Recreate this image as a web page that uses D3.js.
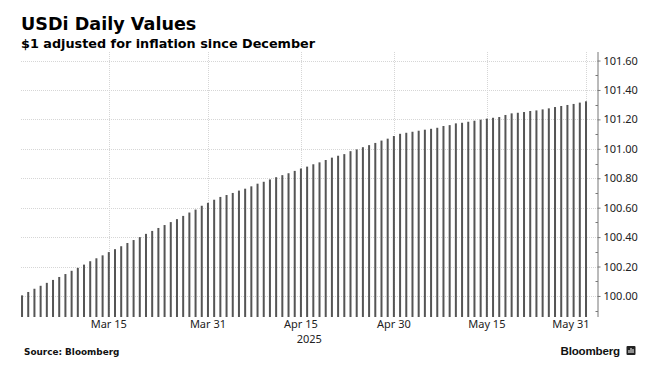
<!DOCTYPE html>
<html>
<head>
<meta charset="utf-8">
<script src="https://cdn.jsdelivr.net/npm/d3@7"></script>
<style>
  html, body { margin: 0; padding: 0; background: #fff; }
  svg { display: block; }
</style>
</head>
<body>
<svg id="chart" width="656" height="367"></svg>
<script>
// ---- data ----
const startDate = "2025-03-01";
const marchValues = [100.004, 100.027, 100.049, 100.069, 100.089, 100.109, 100.129, 100.149, 100.171, 100.191,
  100.213, 100.236, 100.256, 100.276, 100.298, 100.318, 100.338, 100.360, 100.380, 100.400,
  100.422, 100.442, 100.462, 100.482, 100.502, 100.522, 100.544, 100.567, 100.587, 100.613, 100.633];
const aprilValues = [100.654, 100.673, 100.686, 100.700, 100.716, 100.729, 100.745, 100.763, 100.776, 100.792,
  100.807, 100.821, 100.834, 100.850, 100.866, 100.879, 100.895, 100.908, 100.924, 100.940,
  100.953, 100.964, 100.984, 100.996, 101.011, 101.025, 101.040, 101.056, 101.069, 101.087];
const mayValues = [101.102, 101.109, 101.116, 101.123, 101.130, 101.136, 101.143, 101.155, 101.161, 101.173,
  101.177, 101.184, 101.191, 101.198, 101.205, 101.211, 101.216, 101.230, 101.241, 101.245,
  101.250, 101.257, 101.261, 101.268, 101.275, 101.284, 101.291, 101.298, 101.305, 101.314, 101.323];
const xTickDates = ["2025-03-15", "2025-03-31", "2025-04-15", "2025-04-30", "2025-05-15", "2025-05-31"];
const xTickLabels = ["Mar 15", "Mar 31", "Apr 15", "Apr 30", "May 15", "May 31"];
const yearLabel = "2025";
const yMajorTicks = [100.0, 100.2, 100.4, 100.6, 100.8, 101.0, 101.2, 101.4, 101.6];
const yMinorTicks = [99.9, 100.1, 100.3, 100.5, 100.7, 100.9, 101.1, 101.3, 101.5];
const titleText = "USDi Daily Values";
const subtitleText = "$1 adjusted for inflation since December";
const sourceText = "Source: Bloomberg";
const logoText = "Bloomberg";

// ---- build table ----
const parse = d3.timeParse("%Y-%m-%d");
const allValues = marchValues.concat(aprilValues, mayValues);
const d0 = parse(startDate);
const data = allValues.map((v, i) => ({ date: d3.timeDay.offset(d0, i), value: v }));

// ---- layout ----
const svg = d3.select("#chart");
const plot = { left: 21, right: 597.5, top: 52, bottom: 317 };

const x = d3.scaleTime()
  .domain([new Date(2025, 1, 28, 20, 0), new Date(2025, 5, 1, 20, 30)])
  .range([plot.left, plot.right]);
const y = d3.scaleLinear()
  .domain([99.857, 101.658])
  .range([plot.bottom, plot.top]);

const sans = "'DejaVu Sans', Verdana, sans-serif";
const labelFont = "'Noto Sans', 'Open Sans', sans-serif";

// gridlines horizontal
svg.append("g")
  .selectAll("line")
  .data(yMajorTicks)
  .join("line")
  .attr("x1", plot.left).attr("x2", plot.right)
  .attr("y1", d => Math.round(y(d)) + 0.5).attr("y2", d => Math.round(y(d)) + 0.5)
  .attr("stroke", "#d6d6d6").attr("stroke-width", 1).attr("stroke-dasharray", "1,1");

// gridlines vertical
svg.append("g")
  .selectAll("line")
  .data(xTickDates.map(parse))
  .join("line")
  .attr("x1", d => Math.round(x(d)) + 0.5).attr("x2", d => Math.round(x(d)) + 0.5)
  .attr("y1", plot.top).attr("y2", plot.bottom)
  .attr("stroke", "#d6d6d6").attr("stroke-width", 1).attr("stroke-dasharray", "1,1");

// bars
svg.append("g")
  .selectAll("rect")
  .data(data)
  .join("rect")
  .attr("x", d => x(d.date) - 1)
  .attr("width", 2)
  .attr("y", d => y(d.value))
  .attr("height", d => plot.bottom - y(d.value))
  .attr("fill", "#555555");

// right axis
const yAxis = d3.axisRight(y)
  .tickValues(yMajorTicks)
  .tickSize(3)
  .tickPadding(3)
  .tickFormat(d3.format(".2f"));
const gy = svg.append("g")
  .attr("transform", `translate(${plot.right},0)`)
  .call(yAxis);
gy.select(".domain").attr("d", `M0.5,${plot.top}V${plot.bottom}`).attr("stroke", "#777");
gy.selectAll(".tick line").attr("stroke", "#777");
gy.selectAll(".tick text")
  .attr("font-family", labelFont)
  .attr("font-size", "11px")
  .attr("fill", "#222");
// minor ticks
svg.append("g")
  .selectAll("line")
  .data(yMinorTicks)
  .join("line")
  .attr("x1", plot.right - 2).attr("x2", plot.right + 0.5)
  .attr("y1", d => Math.round(y(d)) + 0.5).attr("y2", d => Math.round(y(d)) + 0.5)
  .attr("stroke", "#777");

// x labels
const xl = svg.append("g")
  .selectAll("text")
  .data(xTickDates.map((d, i) => ({ date: parse(d), label: xTickLabels[i] })))
  .join("text")
  .attr("y", 327.5)
  .attr("text-anchor", "middle")
  .attr("font-family", labelFont)
  .attr("font-size", "11px")
  .attr("fill", "#222")
  .text(d => d.label);
xl.each(function(d) {
  const w = this.getComputedTextLength();
  const cx = Math.min(x(d.date), plot.right - 8 - w / 2);
  d3.select(this).attr("x", cx);
});

svg.append("text")
  .attr("x", (plot.left + plot.right) / 2)
  .attr("y", 342.5)
  .attr("text-anchor", "middle")
  .attr("font-family", labelFont)
  .attr("font-size", "11px")
  .attr("fill", "#222")
  .text(yearLabel);

// titles
svg.append("text")
  .attr("x", 21).attr("y", 30)
  .attr("font-family", sans).attr("font-weight", "bold")
  .attr("font-size", "17.6px").attr("fill", "#000")
  .text(titleText);
svg.append("text")
  .attr("x", 21).attr("y", 47.5)
  .attr("font-family", sans).attr("font-weight", "bold")
  .attr("font-size", "12.8px").attr("fill", "#000")
  .text(subtitleText);

// footer
svg.append("text")
  .attr("x", 24).attr("y", 355)
  .attr("font-family", sans).attr("font-weight", "bold")
  .attr("font-size", "8.9px").attr("fill", "#111")
  .text(sourceText);

svg.append("text")
  .attr("x", 560.5).attr("y", 354.5)
  .attr("font-family", "'Liberation Sans', Arial, sans-serif").attr("font-weight", "bold")
  .attr("font-size", "11.6px").attr("fill", "#111")
  .attr("letter-spacing", "-0.2px")
  .text(logoText);

const icon = svg.append("g").attr("transform", "translate(626.5,346)");
icon.append("rect").attr("width", 9).attr("height", 9).attr("rx", 1).attr("fill", "#222");
icon.append("rect").attr("x", 2).attr("y", 4).attr("width", 1).attr("height", 3).attr("fill", "#fff");
icon.append("rect").attr("x", 4).attr("y", 2).attr("width", 1).attr("height", 5).attr("fill", "#fff");
icon.append("rect").attr("x", 6).attr("y", 3).attr("width", 1).attr("height", 4).attr("fill", "#fff");
</script>
</body>
</html>
